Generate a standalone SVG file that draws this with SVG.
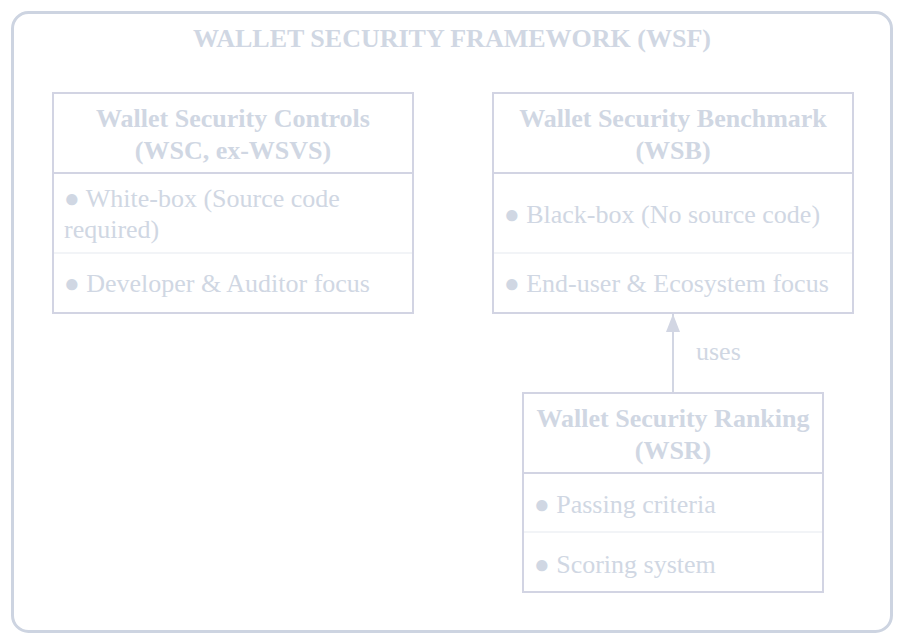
<svg xmlns="http://www.w3.org/2000/svg" width="904" height="644" viewBox="0 0 904 644">
<defs>
<style>
.frame{fill:#ffffff;stroke:#cdd4e1;stroke-width:3}
.box{fill:#ffffff;stroke:#d2d4e3;stroke-width:2}
.hsep{stroke:#d2d4e3;stroke-width:2}
.isep{stroke:#eef1f5;stroke-width:1.5}
.t{font-family:"Liberation Serif","Times New Roman",serif;fill:#d0d7e3;font-size:26px}
.b{font-weight:bold}
.c{text-anchor:middle}
.edge{stroke:#d2d6e3;stroke-width:2;fill:none}
</style>
<marker id="arr" markerWidth="18" markerHeight="16" refX="18" refY="8" orient="auto" markerUnits="userSpaceOnUse" viewBox="0 0 18 16">
<path d="M0 1 L18 8 L0 15 Z" fill="#d2d6e3"/>
</marker>
</defs>
<rect x="0" y="0" width="904" height="644" fill="#ffffff"/>
<g id="frame">
<rect class="frame" x="12.5" y="12.5" width="879" height="619" rx="16"/>
<text class="t b c" x="452" y="47">WALLET SECURITY FRAMEWORK (WSF)</text>
</g>
<g id="wsc">
<rect class="box" x="53" y="93" width="360" height="220"/>
<line class="hsep" x1="53" y1="173" x2="413" y2="173"/>
<line class="isep" x1="54" y1="253" x2="412" y2="253"/>
<text class="t b c" x="233" y="127">Wallet Security Controls</text>
<text class="t b c" x="233" y="159">(WSC, ex-WSVS)</text>
<text class="t" x="64" y="207">● White-box (Source code</text>
<text class="t" x="64" y="238">required)</text>
<text class="t" x="64" y="292">● Developer &amp; Auditor focus</text>
</g>
<g id="wsb">
<rect class="box" x="493" y="93" width="360" height="220"/>
<line class="hsep" x1="493" y1="173" x2="853" y2="173"/>
<line class="isep" x1="494" y1="253" x2="852" y2="253"/>
<text class="t b c" x="673" y="127">Wallet Security Benchmark</text>
<text class="t b c" x="673" y="159">(WSB)</text>
<text class="t" x="504" y="223">● Black-box (No source code)</text>
<text class="t" x="504" y="292">● End-user &amp; Ecosystem focus</text>
</g>
<g id="wsr">
<rect class="box" x="523" y="393" width="300" height="199"/>
<line class="hsep" x1="523" y1="473" x2="823" y2="473"/>
<line class="isep" x1="524" y1="532" x2="822" y2="532"/>
<text class="t b c" x="673" y="427">Wallet Security Ranking</text>
<text class="t b c" x="673" y="459">(WSR)</text>
<text class="t" x="534" y="513">● Passing criteria</text>
<text class="t" x="534" y="573">● Scoring system</text>
</g>
<g id="connectors">
<line class="edge" x1="673" y1="392" x2="673" y2="314" marker-end="url(#arr)"/>
<text class="t" x="696" y="360">uses</text>
</g>
</svg>
